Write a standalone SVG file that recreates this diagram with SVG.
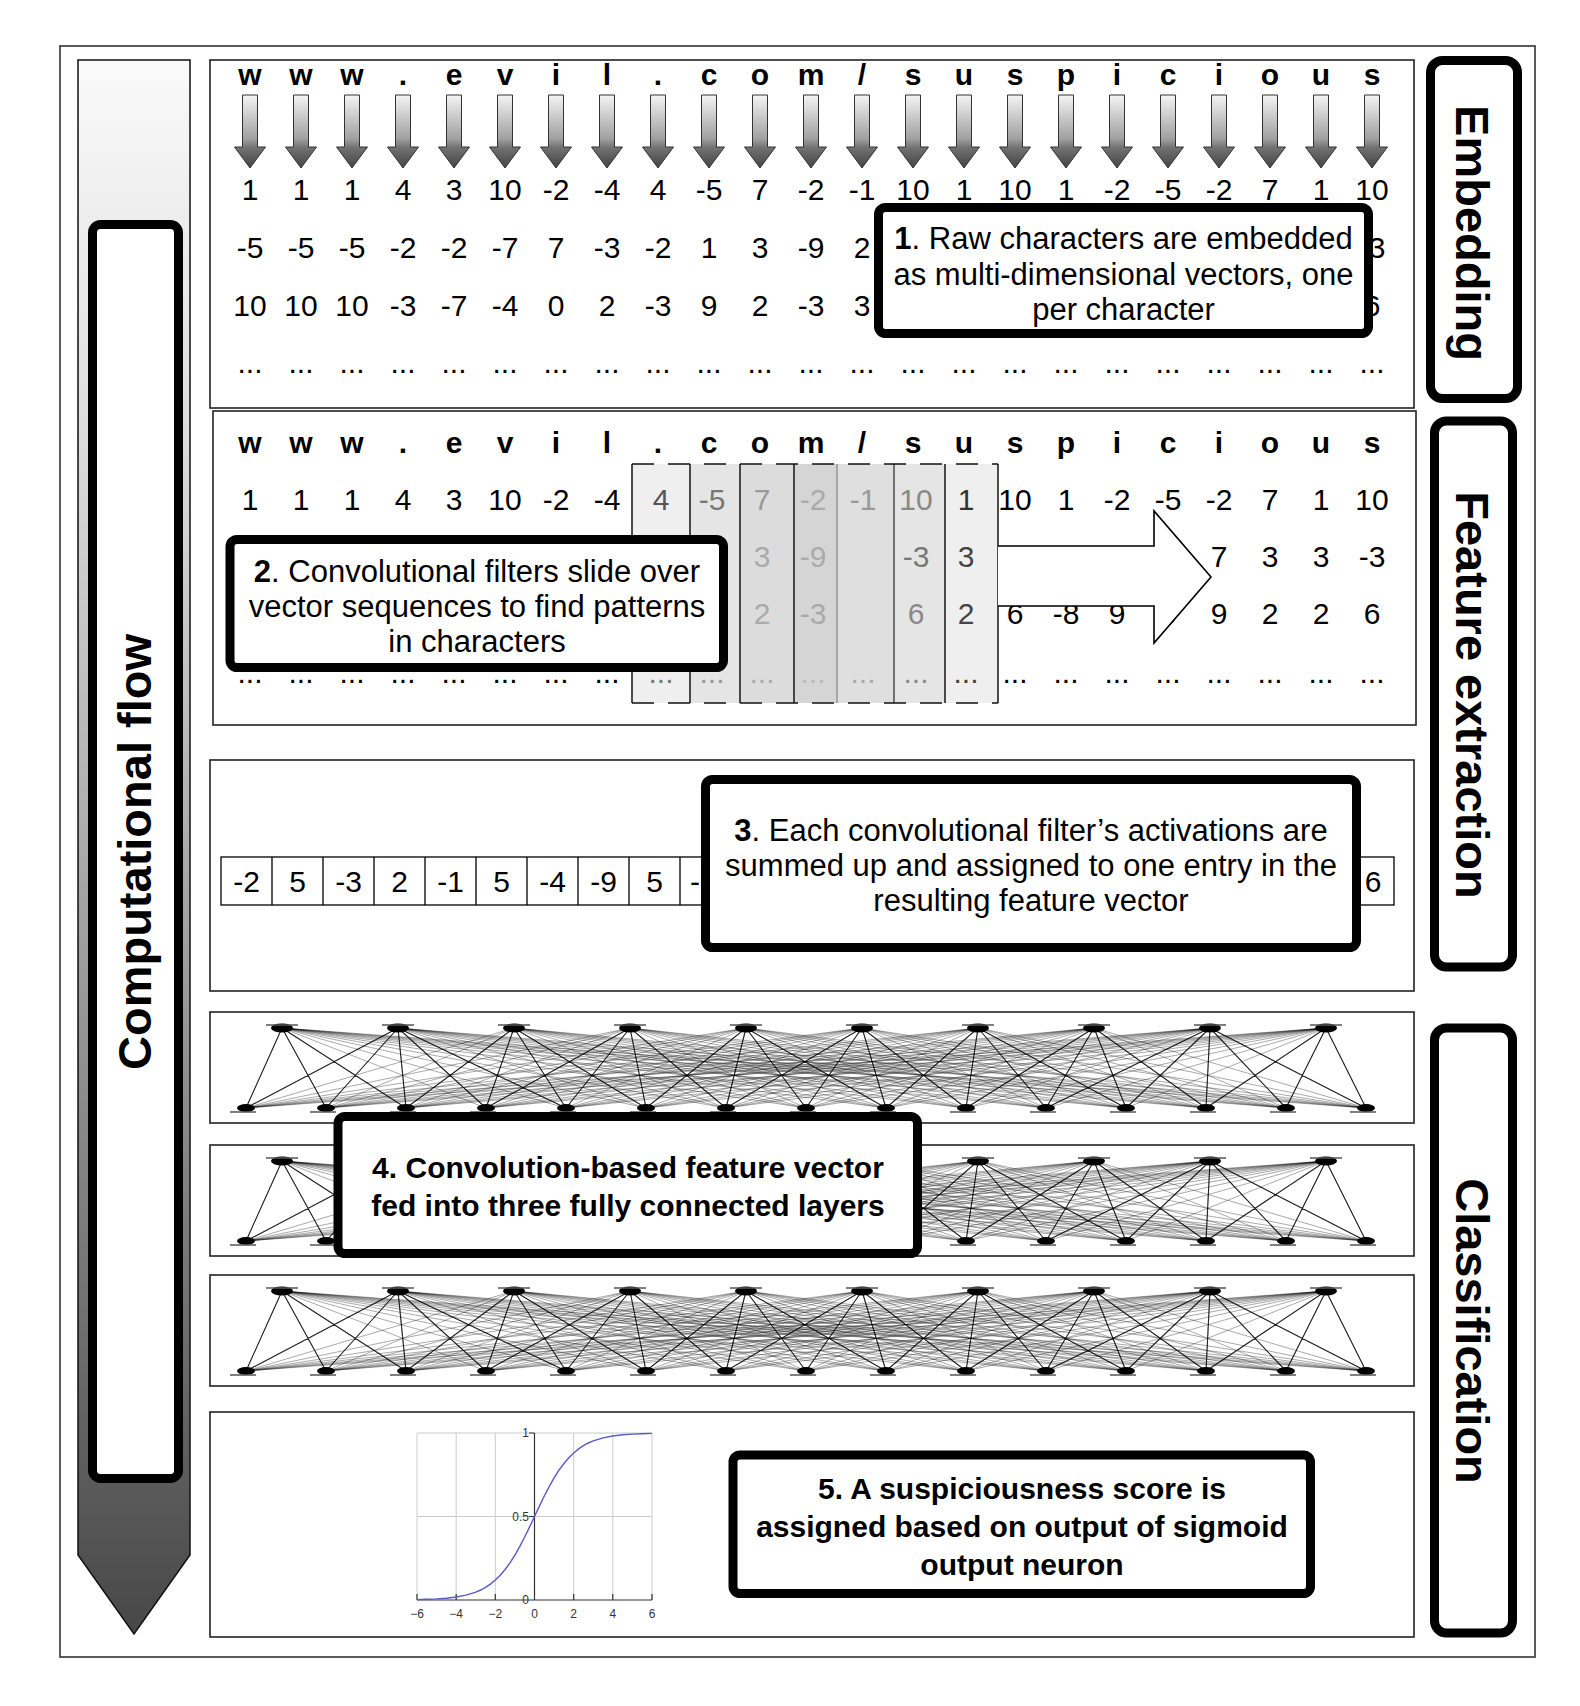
<svg xmlns="http://www.w3.org/2000/svg" width="1580" height="1706" viewBox="0 0 1580 1706">
<style>
text { font-family: "Liberation Sans", Arial, Helvetica, sans-serif; }
.num { font-size: 30px; text-anchor: middle; fill: #000; }
.chr { font-size: 30px; font-weight: bold; text-anchor: middle; fill: #000; }
.call { font-size: 31px; text-anchor: middle; fill: #000; }
.callb { font-size: 30px; font-weight: bold; text-anchor: middle; fill: #000; }
.lbl { font-size: 47px; font-weight: bold; text-anchor: middle; fill: #000; }
.panel { fill: #fff; stroke: #222; stroke-width: 1.6; }
.cbox { fill: #fff; stroke: #000; stroke-width: 9; }
.lbox { fill: #fff; stroke: #000; stroke-width: 9; }
.cell { fill: #fff; stroke: #000; stroke-width: 1.3; }
.tick { font-size: 12px; fill: #333; }
</style>
<defs>
<linearGradient id="flowGrad" x1="0" y1="0" x2="0" y2="1">
<stop offset="0" stop-color="#fafafa"/>
<stop offset="0.24" stop-color="#dcdcdc"/>
<stop offset="0.5" stop-color="#ababab"/>
<stop offset="0.72" stop-color="#808080"/>
<stop offset="1" stop-color="#474747"/>
</linearGradient>
<linearGradient id="arrGrad" x1="0" y1="0" x2="0" y2="1">
<stop offset="0" stop-color="#f4f4f4"/>
<stop offset="0.6" stop-color="#a0a0a0"/>
<stop offset="0.72" stop-color="#727272"/>
<stop offset="1" stop-color="#444"/>
</linearGradient>
<path id="darr" d="M-7.5 95H7.5V147H15.5L0 168L-15.5 147H-7.5Z" fill="url(#arrGrad)" stroke="#333" stroke-width="1"/>
<g id="fc">
<path fill="none" stroke="#000" stroke-opacity="0.42" stroke-width="0.8" d="M282 0L246 80M282 0L326 80M282 0L406 80M282 0L486 80M282 0L566 80M282 0L646 80M282 0L726 80M282 0L806 80M282 0L886 80M282 0L966 80M282 0L1046 80M282 0L1126 80M282 0L1206 80M282 0L1286 80M282 0L1366 80
M398 0L246 80M398 0L326 80M398 0L406 80M398 0L486 80M398 0L566 80M398 0L646 80M398 0L726 80M398 0L806 80M398 0L886 80M398 0L966 80M398 0L1046 80M398 0L1126 80M398 0L1206 80M398 0L1286 80M398 0L1366 80
M514 0L246 80M514 0L326 80M514 0L406 80M514 0L486 80M514 0L566 80M514 0L646 80M514 0L726 80M514 0L806 80M514 0L886 80M514 0L966 80M514 0L1046 80M514 0L1126 80M514 0L1206 80M514 0L1286 80M514 0L1366 80
M630 0L246 80M630 0L326 80M630 0L406 80M630 0L486 80M630 0L566 80M630 0L646 80M630 0L726 80M630 0L806 80M630 0L886 80M630 0L966 80M630 0L1046 80M630 0L1126 80M630 0L1206 80M630 0L1286 80M630 0L1366 80
M746 0L246 80M746 0L326 80M746 0L406 80M746 0L486 80M746 0L566 80M746 0L646 80M746 0L726 80M746 0L806 80M746 0L886 80M746 0L966 80M746 0L1046 80M746 0L1126 80M746 0L1206 80M746 0L1286 80M746 0L1366 80
M862 0L246 80M862 0L326 80M862 0L406 80M862 0L486 80M862 0L566 80M862 0L646 80M862 0L726 80M862 0L806 80M862 0L886 80M862 0L966 80M862 0L1046 80M862 0L1126 80M862 0L1206 80M862 0L1286 80M862 0L1366 80
M978 0L246 80M978 0L326 80M978 0L406 80M978 0L486 80M978 0L566 80M978 0L646 80M978 0L726 80M978 0L806 80M978 0L886 80M978 0L966 80M978 0L1046 80M978 0L1126 80M978 0L1206 80M978 0L1286 80M978 0L1366 80
M1094 0L246 80M1094 0L326 80M1094 0L406 80M1094 0L486 80M1094 0L566 80M1094 0L646 80M1094 0L726 80M1094 0L806 80M1094 0L886 80M1094 0L966 80M1094 0L1046 80M1094 0L1126 80M1094 0L1206 80M1094 0L1286 80M1094 0L1366 80
M1210 0L246 80M1210 0L326 80M1210 0L406 80M1210 0L486 80M1210 0L566 80M1210 0L646 80M1210 0L726 80M1210 0L806 80M1210 0L886 80M1210 0L966 80M1210 0L1046 80M1210 0L1126 80M1210 0L1206 80M1210 0L1286 80M1210 0L1366 80
M1326 0L246 80M1326 0L326 80M1326 0L406 80M1326 0L486 80M1326 0L566 80M1326 0L646 80M1326 0L726 80M1326 0L806 80M1326 0L886 80M1326 0L966 80M1326 0L1046 80M1326 0L1126 80M1326 0L1206 80M1326 0L1286 80M1326 0L1366 80"/>
<path fill="none" stroke="#000" stroke-opacity="0.8" stroke-width="1.1" d="M282 0L246 80M282 0L326 80M282 0L406 80
M398 0L246 80M398 0L326 80M398 0L406 80M398 0L486 80M398 0L566 80
M514 0L406 80M514 0L486 80M514 0L566 80M514 0L646 80
M630 0L486 80M630 0L566 80M630 0L646 80M630 0L726 80
M746 0L646 80M746 0L726 80M746 0L806 80M746 0L886 80
M862 0L726 80M862 0L806 80M862 0L886 80M862 0L966 80
M978 0L886 80M978 0L966 80M978 0L1046 80M978 0L1126 80
M1094 0L966 80M1094 0L1046 80M1094 0L1126 80M1094 0L1206 80
M1210 0L1046 80M1210 0L1126 80M1210 0L1206 80M1210 0L1286 80M1210 0L1366 80
M1326 0L1206 80M1326 0L1286 80M1326 0L1366 80"/>
<g fill="#000">
<ellipse cx="282" cy="0" rx="11" ry="4.5"/><ellipse cx="398" cy="0" rx="11" ry="4.5"/><ellipse cx="514" cy="0" rx="11" ry="4.5"/><ellipse cx="630" cy="0" rx="11" ry="4.5"/><ellipse cx="746" cy="0" rx="11" ry="4.5"/><ellipse cx="862" cy="0" rx="11" ry="4.5"/><ellipse cx="978" cy="0" rx="11" ry="4.5"/><ellipse cx="1094" cy="0" rx="11" ry="4.5"/><ellipse cx="1210" cy="0" rx="11" ry="4.5"/><ellipse cx="1326" cy="0" rx="11" ry="4.5"/>
<ellipse cx="246" cy="80" rx="9" ry="4"/><ellipse cx="326" cy="80" rx="9" ry="4"/><ellipse cx="406" cy="80" rx="9" ry="4"/><ellipse cx="486" cy="80" rx="9" ry="4"/><ellipse cx="566" cy="80" rx="9" ry="4"/><ellipse cx="646" cy="80" rx="9" ry="4"/><ellipse cx="726" cy="80" rx="9" ry="4"/><ellipse cx="806" cy="80" rx="9" ry="4"/><ellipse cx="886" cy="80" rx="9" ry="4"/><ellipse cx="966" cy="80" rx="9" ry="4"/><ellipse cx="1046" cy="80" rx="9" ry="4"/><ellipse cx="1126" cy="80" rx="9" ry="4"/><ellipse cx="1206" cy="80" rx="9" ry="4"/><ellipse cx="1286" cy="80" rx="9" ry="4"/><ellipse cx="1366" cy="80" rx="9" ry="4"/>
</g>
<path fill="none" stroke="#555" stroke-width="1.4" d="M266 -3H298M382 -3H414M498 -3H530M614 -3H646M730 -3H762M846 -3H878M962 -3H994M1078 -3H1110M1194 -3H1226M1310 -3H1342
M230 84H256M310 84H336M390 84H416M470 84H496M550 84H576M630 84H656M710 84H736M790 84H816M870 84H896M950 84H976M1030 84H1056M1110 84H1136M1190 84H1216M1270 84H1296M1350 84H1376"/>
</g>
</defs>

<rect x="0" y="0" width="1580" height="1706" fill="#fff"/>
<rect id="frame" x="60" y="46" width="1475" height="1611" fill="#fff" stroke="#333" stroke-width="1.6"/>

<g id="flow">
<path d="M78 60H190V1555L134 1634L78 1555Z" fill="url(#flowGrad)" stroke="#111" stroke-width="1.5"/>
<rect x="92.5" y="224.5" width="86" height="1254" rx="8" class="lbox"/>
<text class="lbl" transform="translate(151 852) rotate(-90)" style="font-size:47px">Computational flow</text>
</g>

<g id="panel-embedding">
<rect class="panel" x="210" y="60" width="1204" height="348"/>
<g class="chr">
<text x="250" y="85">w</text><text x="301" y="85">w</text><text x="352" y="85">w</text><text x="403" y="85">.</text><text x="454" y="85">e</text><text x="505" y="85">v</text><text x="556" y="85">i</text><text x="607" y="85">l</text><text x="658" y="85">.</text><text x="709" y="85">c</text><text x="760" y="85">o</text><text x="811" y="85">m</text><text x="862" y="85">/</text><text x="913" y="85">s</text><text x="964" y="85">u</text><text x="1015" y="85">s</text><text x="1066" y="85">p</text><text x="1117" y="85">i</text><text x="1168" y="85">c</text><text x="1219" y="85">i</text><text x="1270" y="85">o</text><text x="1321" y="85">u</text><text x="1372" y="85">s</text>
</g>
<g class="num">
<text x="250" y="200">1</text><text x="301" y="200">1</text><text x="352" y="200">1</text><text x="403" y="200">4</text><text x="454" y="200">3</text><text x="505" y="200">10</text><text x="556" y="200">-2</text><text x="607" y="200">-4</text><text x="658" y="200">4</text><text x="709" y="200">-5</text><text x="760" y="200">7</text><text x="811" y="200">-2</text><text x="862" y="200">-1</text><text x="913" y="200">10</text><text x="964" y="200">1</text><text x="1015" y="200">10</text><text x="1066" y="200">1</text><text x="1117" y="200">-2</text><text x="1168" y="200">-5</text><text x="1219" y="200">-2</text><text x="1270" y="200">7</text><text x="1321" y="200">1</text><text x="1372" y="200">10</text>
<text x="250" y="258">-5</text><text x="301" y="258">-5</text><text x="352" y="258">-5</text><text x="403" y="258">-2</text><text x="454" y="258">-2</text><text x="505" y="258">-7</text><text x="556" y="258">7</text><text x="607" y="258">-3</text><text x="658" y="258">-2</text><text x="709" y="258">1</text><text x="760" y="258">3</text><text x="811" y="258">-9</text><text x="862" y="258">2</text><text x="1372" y="258">-3</text>
<text x="250" y="316">10</text><text x="301" y="316">10</text><text x="352" y="316">10</text><text x="403" y="316">-3</text><text x="454" y="316">-7</text><text x="505" y="316">-4</text><text x="556" y="316">0</text><text x="607" y="316">2</text><text x="658" y="316">-3</text><text x="709" y="316">9</text><text x="760" y="316">2</text><text x="811" y="316">-3</text><text x="862" y="316">3</text><text x="1372" y="316">6</text>
<text x="250" y="373">...</text><text x="301" y="373">...</text><text x="352" y="373">...</text><text x="403" y="373">...</text><text x="454" y="373">...</text><text x="505" y="373">...</text><text x="556" y="373">...</text><text x="607" y="373">...</text><text x="658" y="373">...</text><text x="709" y="373">...</text><text x="760" y="373">...</text><text x="811" y="373">...</text><text x="862" y="373">...</text><text x="913" y="373">...</text><text x="964" y="373">...</text><text x="1015" y="373">...</text><text x="1066" y="373">...</text><text x="1117" y="373">...</text><text x="1168" y="373">...</text><text x="1219" y="373">...</text><text x="1270" y="373">...</text><text x="1321" y="373">...</text><text x="1372" y="373">...</text>
</g>
</g>

<g id="panel-convolution">
<rect class="panel" x="213" y="411" width="1203" height="314"/>
<g id="filters-fill">
<rect x="632" y="464" width="58" height="239" fill="#efefef"/>
<rect x="690" y="464" width="50" height="239" fill="#e5e5e5"/>
<rect x="740" y="464" width="54" height="239" fill="#dcdcdc"/>
<rect x="794" y="464" width="43" height="239" fill="#d5d5d5"/>
<rect x="837" y="464" width="57" height="239" fill="#dfdfdf"/>
<rect x="894" y="464" width="51" height="239" fill="#e5e5e5"/>
<rect x="945" y="464" width="53" height="239" fill="#efefef"/>
</g>
<g class="chr">
<text x="250" y="453">w</text><text x="301" y="453">w</text><text x="352" y="453">w</text><text x="403" y="453">.</text><text x="454" y="453">e</text><text x="505" y="453">v</text><text x="556" y="453">i</text><text x="607" y="453">l</text><text x="658" y="453">.</text><text x="709" y="453">c</text><text x="760" y="453">o</text><text x="811" y="453">m</text><text x="862" y="453">/</text><text x="913" y="453">s</text><text x="964" y="453">u</text><text x="1015" y="453">s</text><text x="1066" y="453">p</text><text x="1117" y="453">i</text><text x="1168" y="453">c</text><text x="1219" y="453">i</text><text x="1270" y="453">o</text><text x="1321" y="453">u</text><text x="1372" y="453">s</text>
</g>
<g class="num">
<text x="250" y="510">1</text><text x="301" y="510">1</text><text x="352" y="510">1</text><text x="403" y="510">4</text><text x="454" y="510">3</text><text x="505" y="510">10</text><text x="556" y="510">-2</text><text x="607" y="510">-4</text>
<text x="661" y="510" fill="#555">4</text><text x="712" y="510" fill="#777">-5</text><text x="762" y="510" fill="#999">7</text><text x="813" y="510" fill="#aaa">-2</text><text x="863" y="510" fill="#999">-1</text><text x="916" y="510" fill="#888">10</text><text x="966" y="510" fill="#333">1</text>
<text x="1015" y="510">10</text><text x="1066" y="510">1</text><text x="1117" y="510">-2</text><text x="1168" y="510">-5</text><text x="1219" y="510">-2</text><text x="1270" y="510">7</text><text x="1321" y="510">1</text><text x="1372" y="510">10</text>
<text x="762" y="567" fill="#aaa">3</text><text x="813" y="567" fill="#aaa">-9</text><text x="916" y="567" fill="#777">-3</text><text x="966" y="567" fill="#444">3</text>
<text x="1219" y="567">7</text><text x="1270" y="567">3</text><text x="1321" y="567">3</text><text x="1372" y="567">-3</text>
<text x="762" y="624" fill="#aaa">2</text><text x="813" y="624" fill="#aaa">-3</text><text x="916" y="624" fill="#888">6</text><text x="966" y="624" fill="#444">2</text>
<text x="1015" y="624">6</text><text x="1066" y="624">-8</text><text x="1117" y="624">9</text><text x="1168" y="624">6</text><text x="1219" y="624">9</text><text x="1270" y="624">2</text><text x="1321" y="624">2</text><text x="1372" y="624">6</text>
<text x="250" y="683">...</text><text x="301" y="683">...</text><text x="352" y="683">...</text><text x="403" y="683">...</text><text x="454" y="683">...</text><text x="505" y="683">...</text><text x="556" y="683">...</text><text x="607" y="683">...</text>
<text x="661" y="683" fill="#777">...</text><text x="712" y="683" fill="#999">...</text><text x="762" y="683" fill="#aaa">...</text><text x="813" y="683" fill="#bbb">...</text><text x="863" y="683" fill="#aaa">...</text><text x="916" y="683" fill="#888">...</text><text x="966" y="683" fill="#444">...</text>
<text x="1015" y="683">...</text><text x="1066" y="683">...</text><text x="1117" y="683">...</text><text x="1168" y="683">...</text><text x="1219" y="683">...</text><text x="1270" y="683">...</text><text x="1321" y="683">...</text><text x="1372" y="683">...</text>
</g>
<g id="filters-border" fill="none" stroke-width="1.6">
<path stroke="#222" d="M632 464V703M690 464V703M740 464V703M794 464V703M945 464V703M998 464V703"/>
<path stroke="#999" d="M837 464V703"/>
<path stroke="#555" d="M894 464V703"/>
<path stroke="#111" stroke-dasharray="22 14" d="M632 464H998M632 703H998"/>
</g>
</g>

<g id="panel-feature-vector">
<rect class="panel" x="210" y="760" width="1204" height="231"/>
<rect class="cell" x="221" y="857" width="1173" height="48"/>
<path stroke="#000" stroke-width="1.3" d="M272 857V905M323 857V905M374 857V905M425 857V905M476 857V905M527 857V905M578 857V905M629 857V905M680 857V905M731 857V905M1343 857V905"/>
<g class="num">
<text x="246.5" y="892">-2</text><text x="297.5" y="892">5</text><text x="348.5" y="892">-3</text><text x="399.5" y="892">2</text><text x="450.5" y="892">-1</text><text x="501.5" y="892">5</text><text x="552.5" y="892">-4</text><text x="603.5" y="892">-9</text><text x="654.5" y="892">5</text><text x="695" y="892">-</text><text x="1373" y="892">6</text>
</g>
</g>

<g id="panel-fc1">
<rect class="panel" x="210" y="1012" width="1204" height="111"/>
<use href="#fc" transform="translate(0 1028)"/>
</g>
<g id="panel-fc2">
<rect class="panel" x="210" y="1145" width="1204" height="111"/>
<use href="#fc" transform="translate(0 1161)"/>
</g>
<g id="panel-fc3">
<rect class="panel" x="210" y="1275" width="1204" height="111"/>
<use href="#fc" transform="translate(0 1291)"/>
</g>

<g id="panel-output">
<rect class="panel" x="210" y="1412" width="1204" height="225"/>
<g id="sigmoid-plot">
<path fill="none" stroke="#ccc" stroke-width="1" d="M417 1433V1600M456.2 1433V1600M495.3 1433V1600M573.7 1433V1600M612.8 1433V1600M652 1433V1600M417 1433H652M417 1516.5H652"/>
<path fill="none" stroke="#333" stroke-width="1.2" d="M534.5 1433V1600M417 1600H652M417 1594V1600M456.2 1594V1600M495.3 1594V1600M573.7 1594V1600M612.8 1594V1600M652 1594V1600M529 1433H534.5M529 1516.5H534.5M529 1600H534.5"/>
<polyline fill="none" stroke="#5a5ac8" stroke-width="1.4" points="417,1599.6 426.8,1599.3 436.6,1598.9 446.4,1598.2 456.2,1597.0 466.0,1595.1 475.8,1592.1 480.7,1590.0 485.6,1587.3 490.4,1584.1 495.3,1580.1 500.2,1575.3 505.1,1569.5 510.0,1562.8 514.9,1555.1 519.8,1546.4 524.7,1537.0 529.6,1526.9 534.5,1516.5 539.4,1506.1 544.3,1496.0 549.2,1486.6 554.1,1477.9 559.0,1470.2 563.9,1463.5 568.8,1457.7 573.7,1452.9 578.6,1448.9 583.4,1445.7 588.3,1443.0 593.2,1440.9 603.0,1437.9 612.8,1436.0 622.6,1434.8 632.4,1434.1 642.2,1433.7 652,1433.4"/>
<g class="tick" text-anchor="end">
<text x="529" y="1437">1</text><text x="529" y="1520.5">0.5</text><text x="529" y="1604">0</text>
</g>
<g class="tick" text-anchor="middle">
<text x="417" y="1618">−6</text><text x="456.2" y="1618">−4</text><text x="495.3" y="1618">−2</text><text x="534.5" y="1618">0</text><text x="573.7" y="1618">2</text><text x="612.8" y="1618">4</text><text x="652" y="1618">6</text>
</g>
</g>
</g>

<g id="connectors">
<use href="#darr" x="250"/><use href="#darr" x="301"/><use href="#darr" x="352"/><use href="#darr" x="403"/><use href="#darr" x="454"/><use href="#darr" x="505"/><use href="#darr" x="556"/><use href="#darr" x="607"/><use href="#darr" x="658"/><use href="#darr" x="709"/><use href="#darr" x="760"/><use href="#darr" x="811"/><use href="#darr" x="862"/><use href="#darr" x="913"/><use href="#darr" x="964"/><use href="#darr" x="1015"/><use href="#darr" x="1066"/><use href="#darr" x="1117"/><use href="#darr" x="1168"/><use href="#darr" x="1219"/><use href="#darr" x="1270"/><use href="#darr" x="1321"/><use href="#darr" x="1372"/>
<path id="conv-arrow" d="M998 546H1154V511L1211 577L1154 643V606H998" fill="#fff" stroke="#000" stroke-width="1.6" stroke-linejoin="miter"/>
</g>

<g id="callout-1">
<rect class="cbox" x="878.5" y="207.5" width="490" height="126" rx="7"/>
<text class="call" x="1123.5" y="249"><tspan font-weight="bold">1</tspan>. Raw characters are embedded</text>
<text class="call" x="1123.5" y="285">as multi-dimensional vectors, one</text>
<text class="call" x="1123.5" y="320">per character</text>
</g>
<g id="callout-2">
<rect class="cbox" x="230" y="539.5" width="493.5" height="128" rx="7"/>
<text class="call" x="477" y="582"><tspan font-weight="bold">2</tspan>. Convolutional filters slide over</text>
<text class="call" x="477" y="617">vector sequences to find patterns</text>
<text class="call" x="477" y="652">in characters</text>
</g>
<g id="callout-3">
<rect class="cbox" x="705.5" y="779.5" width="651" height="168" rx="7"/>
<text class="call" x="1031" y="841"><tspan font-weight="bold">3</tspan>. Each convolutional filter’s activations are</text>
<text class="call" x="1031" y="876">summed up and assigned to one entry in the</text>
<text class="call" x="1031" y="911">resulting feature vector</text>
</g>
<g id="callout-4">
<rect class="cbox" x="338" y="1116.5" width="579.5" height="137" rx="7"/>
<text class="callb" x="628" y="1178">4. Convolution-based feature vector</text>
<text class="callb" x="628" y="1216">fed into three fully connected layers</text>
</g>
<g id="callout-5">
<rect class="cbox" x="733" y="1455" width="577.5" height="138.5" rx="7"/>
<text class="callb" x="1022" y="1499">5. A suspiciousness score is</text>
<text class="callb" x="1022" y="1537">assigned based on output of sigmoid</text>
<text class="callb" x="1022" y="1575">output neuron</text>
</g>

<g id="label-embedding">
<rect class="lbox" x="1430.5" y="60.5" width="87" height="338" rx="12"/>
<text class="lbl" transform="translate(1456 233) rotate(90)">Embedding</text>
</g>
<g id="label-feature-extraction">
<rect class="lbox" x="1434.5" y="421" width="78" height="546" rx="12"/>
<text class="lbl" transform="translate(1456 695) rotate(90)">Feature extraction</text>
</g>
<g id="label-classification">
<rect class="lbox" x="1434.5" y="1028" width="78" height="605" rx="12"/>
<text class="lbl" transform="translate(1456 1331) rotate(90)">Classification</text>
</g>
</svg>
